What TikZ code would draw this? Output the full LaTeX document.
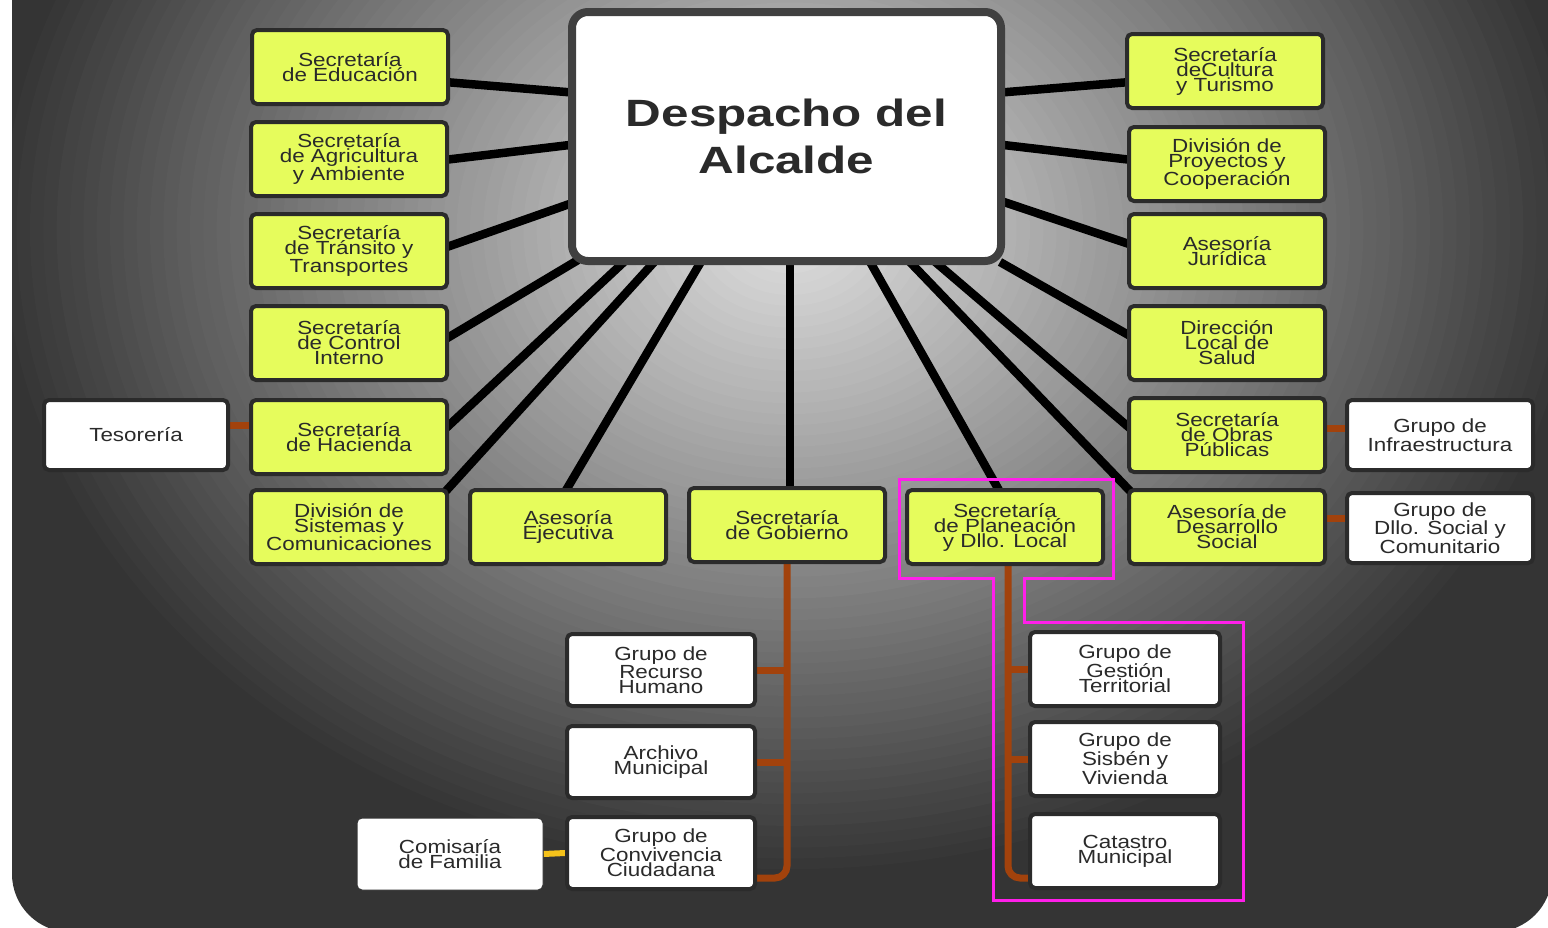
\documentclass[tikz,border=0pt]{standalone}
\usepackage{fontspec}
\setmainfont[FakeStretch=1.18]{Liberation Sans}
\newfontfamily\headfont[FakeStretch=1.3]{Liberation Sans}
\usetikzlibrary{calc,backgrounds}
\definecolor{ink}{HTML}{2A2A2A}
\definecolor{lemon}{HTML}{E6FC5C}
\definecolor{frame}{HTML}{2B2B2B}
\definecolor{twig}{HTML}{A2420C}
\definecolor{gold}{HTML}{F5C21B}
\definecolor{hilite}{HTML}{FF1FEA}
\definecolor{bglight}{HTML}{E2E2E2}
\definecolor{bgdark}{HTML}{343434}
\newcommand{\jefe}[1]{{\headfont\bfseries #1}} % Office of the mayor.

\begin{document}
\begin{tikzpicture}[x=1pt, y=-1pt,
  box/.style={draw=frame, line width=4pt, rounded corners=5pt, align=center,
    text=ink, font=\fontsize{19}{15}\selectfont},
  sec/.style={box, fill=lemon, minimum width=196pt, minimum height=74pt},
  grp/.style={box, fill=white, minimum width=186pt, minimum height=70pt},
  spoke/.style={line width=8.5pt, black},
  sub/.style={line width=7pt, draw=twig}]
\useasboundingbox (0,0) rectangle (1548,927);

% Head office
\node[draw=frame!90!white, line width=8pt, rounded corners=16pt, fill=white,
  minimum width=429pt, minimum height=249pt, align=center, text=ink,
  font=\fontsize{38}{47}\selectfont] (desp) at (786.5,136.5)
  {\jefe{Despacho del}\\\jefe{Alcalde}};

% Left column
\node[sec] (edu)  at (350,67)  {Secretaría\\de Educación};
\node[sec] (agri) at (349,159) {Secretaría\\de Agricultura\\y Ambiente};
\node[sec] (tran) at (349,251) {Secretaría\\de Tránsito y\\Transportes};
\node[sec] (ctrl) at (349,343) {Secretaría\\de Control\\Interno};
\node[sec] (haci) at (349,437) {Secretaría\\de Hacienda};
\node[sec] (sist) at (349,527) {División de\\Sistemas y\\Comunicaciones};
\node[grp, minimum width=184pt] (tes) at (136,435) {Tesorería};

% Bottom row
\node[sec] (ejec) at (568,527)  {Asesoría\\Ejecutiva};
\node[sec] (gob)  at (787,525)  {Secretaría\\de Gobierno};
\node[sec] (plan) at (1005,527) {Secretaría\\de Planeación\\y Dllo. Local};
\node[sec] (dsoc) at (1227,527) {Asesoría de\\Desarrollo\\Social};

% Right column
\node[sec] (cult)  at (1225,71)  {Secretaría\\deCultura\\y Turismo};
\node[sec] (proy)  at (1227,164) {División de\\Proyectos y\\Cooperación};
\node[sec] (juri)  at (1227,251) {Asesoría\\Jurídica};
\node[sec] (salud) at (1227,343) {Dirección\\Local de\\Salud};
\node[sec] (obras) at (1227,435) {Secretaría\\de Obras\\Públicas};
\node[grp] (infra) at (1440,435) {Grupo de\\Infraestructura};
\node[grp] (dllo)  at (1440,528) {Grupo de\\Dllo. Social y\\Comunitario};

% Groups under Gobierno
\node[grp, minimum width=188pt, minimum height=72pt] (rh)   at (661,670) {Grupo de\\Recurso\\Humano};
\node[grp, minimum width=188pt, minimum height=72pt] (arch) at (661,762) {Archivo\\Municipal};
\node[grp, minimum width=188pt, minimum height=72pt] (conv) at (661,853) {Grupo de\\Convivencia\\Ciudadana};
\node[grp, draw=bgdark, line width=1pt, minimum width=186pt, minimum height=72pt] (com) at (450,854) {Comisaría\\de Familia};

% Groups under Planeacion
\node[grp, minimum width=190pt, minimum height=74pt] (gest) at (1125,669) {Grupo de\\Gestión\\Territorial};
\node[grp, minimum width=190pt, minimum height=74pt] (sisb) at (1125,759) {Grupo de\\Sisbén y\\Vivienda};
\node[grp, minimum width=190pt, minimum height=74pt] (cat)  at (1125,851) {Catastro\\Municipal};

\begin{scope}[on background layer]
  \begin{scope}
    \clip[rounded corners=58pt] (12,-80) rectangle (1552,932);
    \fill[bgdark] (0,-80) rectangle (1560,940);
    \foreach \k in {0,...,59} {
      \pgfmathsetmacro\t{1-\k/60}
      \pgfmathsetmacro\p{100*\k/60}
      \fill[bglight!\p!bgdark] (790,230) ellipse [x radius=\t*800pt, y radius=\t*650pt];
    }
  \end{scope}

  % spokes from the head office
  \draw[spoke] ($(edu.east)+(-5,15)$)   -- ($(desp.north west)+(10,85)$);
  \draw[spoke] ($(agri.east)+(-5,1)$)   -- ($(desp.north west)+(10,136)$);
  \draw[spoke] ($(tran.east)+(-5,-3)$)  -- ($(desp.north west)+(10,193)$);
  \draw[spoke] ($(ctrl.east)+(-5,-3)$)  -- ($(desp.south west)+(10,-5)$);
  \draw[spoke] ($(haci.east)+(-5,-7)$)  -- ($(desp.south west)+(58,-5)$);
  \draw[spoke] ($(sist.north east)+(-4,4)$) -- ($(desp.south west)+(88,-5)$);
  \draw[spoke] ($(ejec.north)+(-3,4)$)  -- ($(desp.south west)+(134,-5)$);
  \draw[spoke] ([xshift=3pt]gob.north)  -- ([xshift=3pt]gob.north |- desp.south);
  \draw[spoke] ($(plan.north)+(-5,4)$)  -- ($(desp.south west)+(301,-5)$);
  \draw[spoke] ($(dsoc.north west)+(4,4)$) -- ($(desp.south west)+(340,-5)$);
  \draw[spoke] ($(obras.west)+(5,-5)$)  -- ($(desp.south west)+(365,-5)$);
  \draw[spoke] ($(salud.west)+(5,-6)$)  -- ($(desp.south east)+(-5,-3)$);
  \draw[spoke] ($(juri.west)+(5,-6)$)   -- ($(desp.north east)+(-10,191)$);
  \draw[spoke] ($(proy.west)+(5,-4)$)   -- ($(desp.north east)+(-10,136)$);
  \draw[spoke] ($(cult.west)+(5,11)$)   -- ($(desp.north east)+(-10,85)$);

  % side groups
  \draw[sub] ([yshift=10pt]tes.east) -- ([yshift=10pt]tes.east -| haci.west);
  \draw[sub] ([yshift=7pt]obras.east) -- ([yshift=7pt]obras.east -| infra.west);
  \draw[sub] ([yshift=9pt]dsoc.east) -- ([yshift=9pt]dsoc.east -| dllo.west);
  \draw[sub, rounded corners=12pt] (gob.south) |- ([yshift=-25pt]conv.east);
  \draw[sub] (rh.east) -- (rh.east -| gob.south);
  \draw[sub] (arch.east) -- (arch.east -| gob.south);
  \draw[sub, rounded corners=12pt] ([xshift=3pt]plan.south) |- ([yshift=-27pt]cat.west);
  \draw[sub] (gest.west) -- (gest.west -| plan.south);
  \draw[sub] (sisb.west) -- (sisb.west -| plan.south);
  \draw[line width=6pt, gold] (com.east) -- (conv.west);

  % highlight round Planeacion
  \draw[hilite, line width=3pt] (899,479) -- (1113,479) -- (1113,578) -- (1024,578)
    -- (1024,622) -- (1243,622) -- (1243,900) -- (993,900) -- (993,578) -- (899,578) -- cycle;
\end{scope}
\end{tikzpicture}
\end{document}
